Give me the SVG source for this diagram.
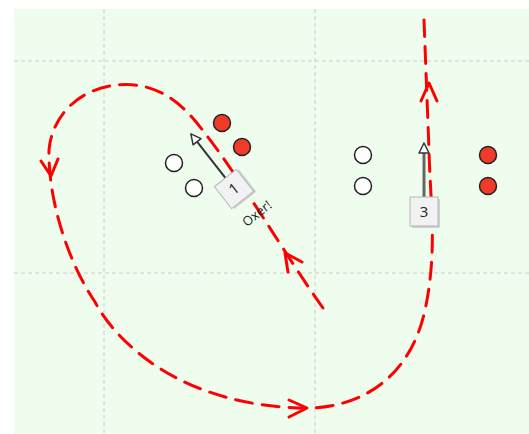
<svg xmlns="http://www.w3.org/2000/svg" width="529" height="434" viewBox="0 0 529 434">
<style>
.grid{stroke:#cccccc;stroke-width:1;stroke-dasharray:4 3;fill:none}
.run{stroke:#ff0000;stroke-width:3;fill:none;stroke-dasharray:17 10;stroke-linecap:round}
.chev{stroke:#ff0000;stroke-width:3;fill:none;stroke-linecap:round;stroke-linejoin:round}
.white{fill:#ffffff;stroke:#222;stroke-width:1.5}
.red{fill:#f03a2a;stroke:#222;stroke-width:1.5}
.box{fill:#f2f2f2;stroke:#b5b5b5;stroke-width:1}
.shadow{fill:#d0d0d0}
.lbl{font-family:"Open Sans","Liberation Sans",sans-serif;font-size:15px;fill:#222;text-anchor:middle}
.note{font-family:"Open Sans","Liberation Sans",sans-serif;font-size:13px;fill:#222;text-anchor:middle}
.head{fill:#fff;stroke:#333;stroke-width:1.5;stroke-linejoin:round}
</style>
<rect x="14" y="9" width="515" height="425" fill="#effdef"/>
<g id="grid">
<line class="grid" x1="104" y1="9" x2="104" y2="434"/>
<line class="grid" x1="315" y1="9" x2="315" y2="434"/>
<line class="grid" x1="14" y1="61" x2="529" y2="61"/>
<line class="grid" x1="14" y1="273" x2="529" y2="273"/>
</g>
<g id="connectors">
<path class="run" d="M323,308 C285,255 230,160 190,115 C165,88 140,83 118,85 C80,88 52,115 49,150 C48,200 68,262 95,302 C115,340 180,408 310,408 C370,406 412,370 425,310 C438,250 430,200 429,150 L424,20"/>
<polyline class="chev" points="421,101 429,83 437,101"/>
<polyline class="chev" points="41,161 51,176 58,159"/>
<polyline class="chev" points="289,400 307,408 289,417"/>
<polyline class="chev" points="302,262 285,253 288,272"/>
</g>
<g id="white-players">
<circle class="white" cx="174" cy="163" r="8.5"/>
<circle class="white" cx="194" cy="188" r="8.5"/>
<circle class="white" cx="363" cy="155" r="8.5"/>
<circle class="white" cx="363" cy="186" r="8.5"/>
</g>
<g id="red-players">
<circle class="red" cx="222" cy="123" r="8.5"/>
<circle class="red" cx="242" cy="147" r="8.5"/>
<circle class="red" cx="488" cy="155" r="8.5"/>
<circle class="red" cx="488" cy="186" r="8.5"/>
</g>
<g id="node1" transform="translate(234,189) rotate(-38)">
<line x1="0" y1="-14" x2="0" y2="-61" stroke="#333" stroke-width="2"/>
<polygon class="head" points="0,-70 -5,-60 5,-60"/>
<rect class="shadow" x="-12" y="-12" width="28" height="28"/>
<rect class="box" x="-14" y="-14" width="28" height="28"/>
<text class="lbl" x="0" y="5">1</text>
<text class="note" x="3" y="38">Oxer!</text>
</g>
<g id="node3">
<line x1="424" y1="197" x2="424" y2="152" stroke="#666" stroke-width="3"/>
<polygon class="head" points="424,143 419,153 429,153"/>
<rect class="shadow" x="412" y="199" width="28" height="29"/>
<rect class="box" x="410" y="197" width="28" height="29"/>
<text class="lbl" x="424" y="217">3</text>
</g>
</svg>
